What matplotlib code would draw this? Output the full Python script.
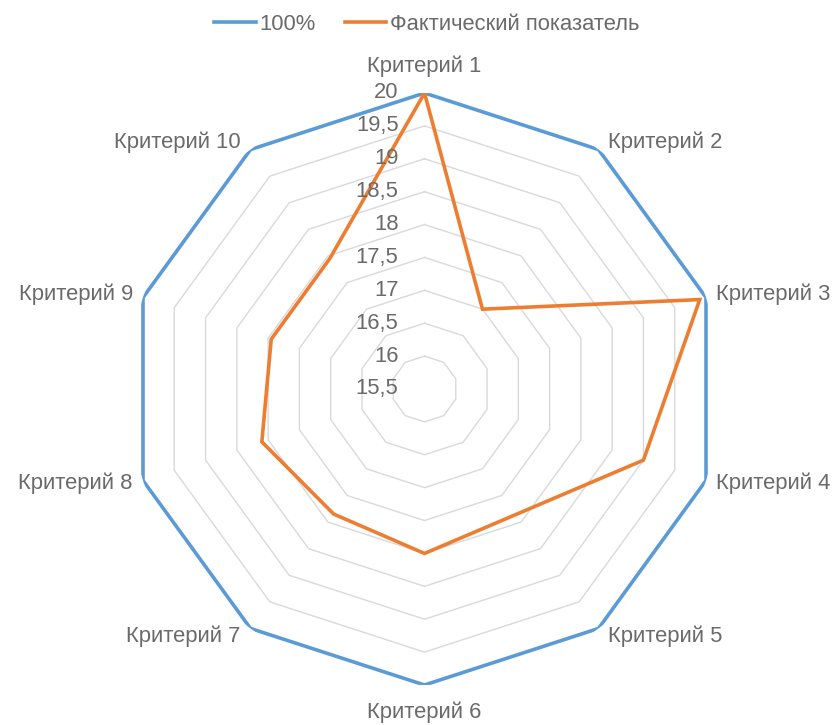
import numpy as np
import matplotlib
matplotlib.use("Agg")
import matplotlib.pyplot as plt

categories = ["Критерий 1", "Критерий 2", "Критерий 3", "Критерий 4", "Критерий 5",
              "Критерий 6", "Критерий 7", "Критерий 8", "Критерий 9", "Критерий 10"]
series_full = [20, 20, 20, 20, 20, 20, 20, 20, 20, 20]
series_actual = [20, 17, 19.9, 19, 17.86, 18, 17.85, 18.1, 17.95, 17.95]
series_names = ["100%", "Фактический показатель"]
r_ticks = [15.5, 16, 16.5, 17, 17.5, 18, 18.5, 19, 19.5, 20]
r_tick_labels = ["15,5", "16", "16,5", "17", "17,5", "18", "18,5", "19", "19,5", "20"]

plt.rcParams['font.family'] = ['Liberation Sans', 'DejaVu Sans']
TXT = '#6a6a6a'
FS = 15.8

W, H = 834, 725
fig = plt.figure(figsize=(W / 100, H / 100), dpi=100)
cx, cy, R = 424.5, 389, 296
ax = fig.add_axes([(cx - R) / W, (H - cy - R) / H, 2 * R / W, 2 * R / H], projection='polar')
ax.set_theta_zero_location('N')
ax.set_theta_direction(-1)
ax.set_ylim(r_ticks[0], r_ticks[-1])
ax.grid(False)
ax.spines['polar'].set_visible(False)
ax.set_xticks([])
ax.set_yticks([])
ax.patch.set_alpha(0)

n = len(categories)
theta = np.linspace(0, 2 * np.pi, n, endpoint=False)
theta_c = np.append(theta, theta[0])

for lvl in r_ticks[1:]:
    ax.plot(theta_c, [lvl] * (n + 1), color='#D9D9D9', lw=1.0, zorder=1)

l1, = ax.plot(theta_c, series_full + series_full[:1], color='#5B9BD5', lw=2.6,
              zorder=3, solid_joinstyle='miter')
l2, = ax.plot(theta_c, series_actual + series_actual[:1], color='#ED7D31', lw=2.6,
              zorder=4, solid_joinstyle='miter')

px = 0.72
for t, lab in zip(r_ticks, r_tick_labels):
    ax.annotate(lab, xy=(0, t), xytext=(-26 * px, 0), textcoords='offset points',
                ha='right', va='center', fontsize=FS, color=TXT, zorder=5)

rmax = r_ticks[-1]
for th, lab in zip(theta, categories):
    s, c = np.sin(th), np.cos(th)
    if abs(s) < 0.1:
        ha = 'center'
        off = (0, 27 * c)
    else:
        ha = 'left' if s > 0 else 'right'
        off = (10 * np.sign(s), 9 * c)
    ax.annotate(lab, xy=(th, rmax), xytext=(off[0] * px, off[1] * px),
                textcoords='offset points', ha=ha, va='center', fontsize=FS, color=TXT)

fig.legend([l1, l2], series_names, loc='center', bbox_to_anchor=(426.5 / W, 1 - 24 / H),
           ncol=2, frameon=False, fontsize=FS, labelcolor=TXT, handlelength=1.9,
           handletextpad=0.15, columnspacing=1.35)

fig.savefig('out.png', dpi=100)
